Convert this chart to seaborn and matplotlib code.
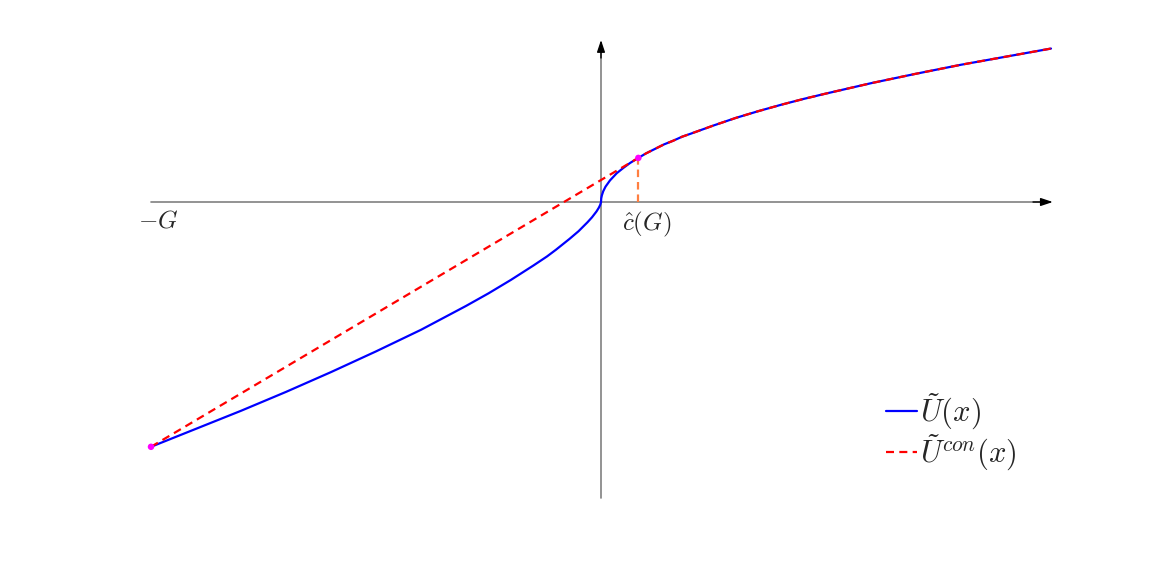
import numpy as np
import pandas as pd
import matplotlib.pyplot as plt
import seaborn as sns

# valores (G = 10)
x_izq = [-10.0, -9.0, -8.0, -7.0, -6.0, -5.0, -4.0, -3.0, -2.5, -2.0, -1.5,
         -1.2, -1.0, -0.7, -0.5, -0.3, -0.2, -0.1, -0.05, -0.02, -0.01, -0.005, 0.0]
u_izq = [-5.44, -5.04, -4.64, -4.22, -3.78, -3.32, -2.84, -2.31, -2.03, -1.73, -1.41,
         -1.21, -1.06, -0.82, -0.65, -0.45, -0.34, -0.21, -0.13, -0.07, -0.04, -0.025, 0.0]
x_der = [0.005, 0.02, 0.05, 0.1, 0.2, 0.35, 0.5, 0.65, 0.83, 1.0, 1.2, 1.4, 1.6,
         1.8, 2.0, 2.5, 3.0, 3.5, 4.0, 4.5, 5.0, 6.0, 7.0, 8.0, 9.0, 10.0]
u_der = [0.08, 0.15, 0.24, 0.34, 0.48, 0.64, 0.76, 0.87, 0.98, 1.08, 1.18, 1.28, 1.36,
         1.45, 1.52, 1.70, 1.87, 2.02, 2.16, 2.29, 2.41, 2.64, 2.85, 3.05, 3.23, 3.41]
G = 10.0
c_hat = 0.83
u_c = 0.98
u_G = -5.44

sns.set_theme(style="white")
plt.rcParams["mathtext.fontset"] = "cm"

df_u = pd.DataFrame({"x": x_izq + x_der, "u": u_izq + u_der})
k = x_der.index(c_hat)
df_con = pd.DataFrame({"x": [-G] + x_der[k:], "u": [u_G] + u_der[k:]})

fig = plt.figure(figsize=(11.63, 5.61), dpi=100)
ax = fig.add_axes([0, 0, 1, 1])
ax.set_xlim(-601 / 45, (1163 - 601) / 45)
ax.set_ylim((202 - 561) / 45, 202 / 45)
ax.axis("off")

# ejes con flechas
gris = "#808080"
ax.plot([-G, 9.8], [0, 0], color=gris, lw=1.2, zorder=1)
ax.plot([0, 0], [(202 - 498) / 45, 3.4], color=gris, lw=1.2, zorder=1)
flecha = dict(arrowstyle="-|>,head_length=0.6,head_width=0.2", color="black", lw=1.0,
              shrinkA=0, shrinkB=0)
ax.annotate("", xy=(10.04, 0), xytext=(9.6, 0), arrowprops=flecha)
ax.annotate("", xy=(0, 3.6), xytext=(0, 3.2), arrowprops=flecha)

# curvas
sns.lineplot(data=df_u, x="x", y="u", sort=False, estimator=None, color="blue",
             lw=1.6, label=r"$\tilde{U}(x)$", ax=ax, zorder=3)
sns.lineplot(data=df_con, x="x", y="u", sort=False, estimator=None, color="red",
             lw=1.6, linestyle=(0, (3.6, 2.4)), label=r"$\tilde{U}^{con}(x)$",
             ax=ax, zorder=4)
sns.lineplot(x=[c_hat, c_hat], y=[0, u_c], sort=False, estimator=None,
             color="#ff7f40", lw=1.6, linestyle=(0, (3.4, 2.2)), ax=ax, zorder=2)
sns.scatterplot(x=[-G, c_hat], y=[u_G, u_c], color="magenta", s=22,
                edgecolor="none", ax=ax, zorder=5)

ax.text(-9.84, -0.42, r"$-G$", fontsize=18, ha="center", va="center")
ax.text(1.02, -0.5, r"$\hat{c}(G)$", fontsize=18, ha="center", va="center")

ax.legend(loc="upper left", bbox_to_anchor=(886 / 1163, 1 - 392 / 561),
          frameon=False, fontsize=22, handlelength=1.0, handletextpad=0.1,
          borderpad=0, borderaxespad=0, labelspacing=0.0)

fig.savefig("out.png", dpi=100)
